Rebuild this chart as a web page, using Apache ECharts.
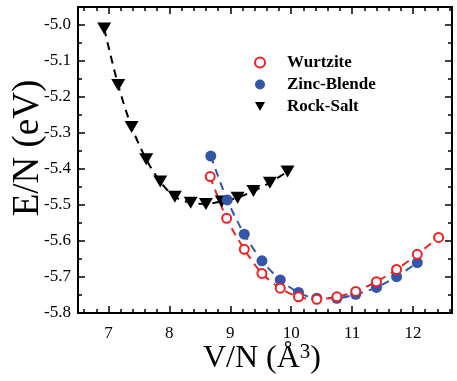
<!DOCTYPE html>
<html>
<head>
<meta charset="utf-8">
<script src="https://cdn.jsdelivr.net/npm/echarts@6/dist/echarts.min.js"></script>
<style>
  html, body { margin: 0; padding: 0; background: #fff; }
  #chart { width: 457px; height: 381px; }
</style>
</head>
<body>
<div id="chart"></div>
<script>
// Equation-of-state curves: energy per atom vs volume per atom
var wurtziteV = [8.67, 8.94, 9.23, 9.52, 9.82, 10.12, 10.42, 10.75, 11.06, 11.40, 11.73, 12.07, 12.42];
var wurtziteE = [-5.421, -5.537, -5.623, -5.690, -5.731, -5.755, -5.762, -5.755, -5.740, -5.713, -5.679, -5.637, -5.590];

var zincBlendeV = [8.68, 8.95, 9.23, 9.52, 9.82, 10.12, 10.42, 10.75, 11.06, 11.40, 11.73, 12.07];
var zincBlendeE = [-5.364, -5.486, -5.581, -5.655, -5.708, -5.743, -5.759, -5.759, -5.748, -5.729, -5.699, -5.660];

var rockSaltV = [6.93, 7.16, 7.38, 7.62, 7.85, 8.09, 8.35, 8.60, 8.86, 9.12, 9.38, 9.65, 9.94];
var rockSaltE = [-5.010, -5.167, -5.283, -5.373, -5.435, -5.477, -5.494, -5.497, -5.490, -5.480, -5.461, -5.438, -5.407];

var xMajorTicks = [7, 8, 9, 10, 11, 12];
var xMinorTicks = [6.6, 6.8, 7.2, 7.4, 7.6, 7.8, 8.2, 8.4, 8.6, 8.8, 9.2, 9.4, 9.6, 9.8,
                   10.2, 10.4, 10.6, 10.8, 11.2, 11.4, 11.6, 11.8, 12.2, 12.4, 12.6];
var yMajorTicks = [-5.8, -5.7, -5.6, -5.5, -5.4, -5.3, -5.2, -5.1, -5.0];
var yMinorTicks = [-5.75, -5.65, -5.55, -5.45, -5.35, -5.25, -5.15, -5.05, -4.95];

var X_MIN = 6.5, X_MAX = 12.64, Y_MIN = -5.8, Y_MAX = -4.95;
var RED = '#ee2222', BLUE = '#3355aa', BLACK = '#000000';
var SERIF = '"Liberation Serif", "DejaVu Serif", serif';
var TRI_DOWN = 'path://M0,0 L10,0 L5,9 Z';

function pairs(xs, ys) {
  return xs.map(function (x, i) { return [x, ys[i]]; });
}

function xAx(pos, ticks, len, labels, line) {
  return {
    type: 'value', position: pos, min: X_MIN, max: X_MAX,
    axisLine: { show: line, onZero: false, lineStyle: { color: BLACK, width: 2 } },
    axisTick: { show: true, inside: true, length: len, customValues: ticks,
                lineStyle: { color: BLACK, width: 1.5 } },
    axisLabel: labels ? { show: true, customValues: ticks, margin: 12,
                          fontFamily: SERIF, fontSize: 17, color: BLACK }
                      : { show: false },
    splitLine: { show: false }
  };
}

function yAx(pos, ticks, len, labels, line) {
  return {
    type: 'value', position: pos, min: Y_MIN, max: Y_MAX,
    axisLine: { show: line, onZero: false, lineStyle: { color: BLACK, width: 2 } },
    axisTick: { show: true, inside: true, length: len, customValues: ticks,
                lineStyle: { color: BLACK, width: 1.5 } },
    axisLabel: labels ? { show: true, customValues: ticks, margin: 7,
                          fontFamily: SERIF, fontSize: 17, color: BLACK,
                          formatter: function (v) { return v.toFixed(1); } }
                      : { show: false },
    splitLine: { show: false }
  };
}

var chart = echarts.init(document.getElementById('chart'));
chart.setOption({
  animation: false,
  backgroundColor: '#fff',
  grid: { left: 78, right: 5, top: 7, bottom: 68 },
  xAxis: [
    xAx('bottom', xMajorTicks, 7, true, true),
    xAx('bottom', xMinorTicks, 4, false, false),
    xAx('top', xMajorTicks, 7, false, true),
    xAx('top', xMinorTicks, 4, false, false)
  ],
  yAxis: [
    yAx('left', yMajorTicks, 7, true, true),
    yAx('left', yMinorTicks, 4, false, false),
    yAx('right', yMajorTicks, 7, false, true),
    yAx('right', yMinorTicks, 4, false, false)
  ],
  legend: {
    orient: 'vertical', left: 249, top: 49, itemGap: 5,
    itemWidth: 10, itemHeight: 10,
    textStyle: { fontFamily: SERIF, fontSize: 17, fontWeight: 'bold', color: BLACK,
                 padding: [0, 0, 0, 17] },
    data: [
      { name: 'Wurtzite', icon: 'circle',
        itemStyle: { color: '#ffffff', borderColor: RED, borderWidth: 2 } },
      { name: 'Zinc-Blende', icon: 'circle', itemStyle: { color: BLUE } },
      { name: 'Rock-Salt', icon: TRI_DOWN, itemStyle: { color: BLACK } }
    ]
  },
  series: [
    {
      name: 'Rock-Salt', type: 'line', smooth: 0.3,
      data: pairs(rockSaltV, rockSaltE),
      symbol: TRI_DOWN, symbolSize: [14, 12],
      itemStyle: { color: BLACK },
      lineStyle: { color: BLACK, width: 2, type: [8, 6] }
    },
    {
      name: 'Zinc-Blende', type: 'line', smooth: 0.3,
      data: pairs(zincBlendeV, zincBlendeE),
      symbol: 'circle', symbolSize: 11,
      itemStyle: { color: BLUE },
      lineStyle: { color: BLUE, width: 2, type: [8, 6] }
    },
    {
      name: 'Wurtzite', type: 'line', smooth: 0.3,
      data: pairs(wurtziteV, wurtziteE),
      symbol: 'emptyCircle', symbolSize: 9,
      itemStyle: { color: RED, borderColor: RED, borderWidth: 2 },
      lineStyle: { color: RED, width: 2, type: [8, 6] }
    }
  ],
  graphic: [
    {
      type: 'text', x: 28, y: 148, rotation: Math.PI / 2,
      style: { text: 'E/N (eV)', font: '37px ' + SERIF, fill: BLACK,
               align: 'center', verticalAlign: 'middle' }
    },
    {
      type: 'text', x: 262, y: 359,
      style: {
        text: '{a|V/N (Å}{s|3}{a|)}',
        align: 'center', verticalAlign: 'middle',
        rich: {
          a: { font: '32px ' + SERIF, fill: BLACK },
          s: { font: '21px ' + SERIF, fill: BLACK, verticalAlign: 'top', padding: [0, 0, 14, 0] }
        }
      }
    }
  ]
});
</script>
</body>
</html>
